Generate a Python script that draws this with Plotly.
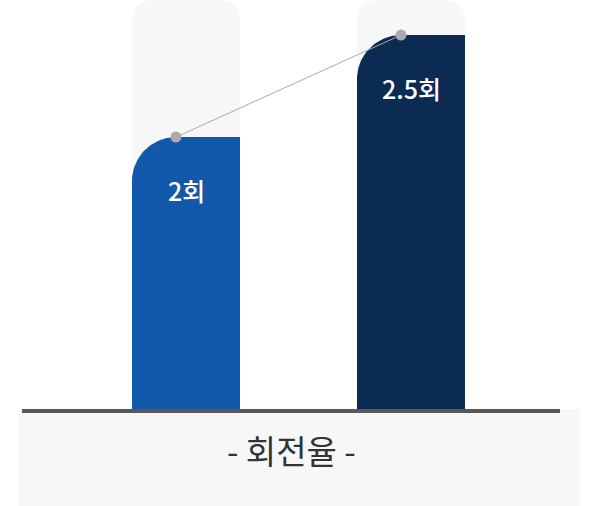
import numpy as np
import plotly.graph_objects as go

# data
categories = ["1", "2"]
values = [2, 2.5]
labels = ["2회", "2.5회"]
bar_colors = ["#1259AB", "#0B2B53"]
axis_title = "- 회전율 -"

# scale settings (the original chart does not start at zero)
y_min = 0.657
y_max = 2.672
x_range = [-186 / 225, 414 / 225]
xpos = list(range(len(categories)))
bar_w = 0.48
track_color = "#F7F7F7"

W, H = 600, 506
plot_h = 411
px_x = W / (x_range[1] - x_range[0])
px_y = plot_h / (y_max - y_min)
r = 44  # top-left corner radius in px
rx, ry = r / px_x, r / px_y

fig = go.Figure()

# light track behind each bar
fig.add_trace(go.Bar(x=xpos, y=[y_max] * len(xpos), width=bar_w,
                     marker=dict(color=track_color, cornerradius=20, line_width=0),
                     hoverinfo="skip", showlegend=False))

# value bars
fig.add_trace(go.Bar(x=xpos, y=values, width=bar_w,
                     marker=dict(color=bar_colors, line_width=0),
                     hoverinfo="skip", showlegend=False))

# round off the top-left corner of each value bar
theta = np.linspace(np.pi / 2, np.pi, 30)
for p, v in zip(xpos, values):
    left = p - bar_w / 2
    cx, cy = left + rx, v - ry
    mx = [left] + list(cx + rx * np.cos(theta)) + [left]
    my = [v] + list(cy + ry * np.sin(theta)) + [v]
    fig.add_trace(go.Scatter(x=mx, y=my, mode="lines", fill="toself",
                             fillcolor=track_color, line=dict(width=0, color=track_color),
                             hoverinfo="skip", showlegend=False))

# connecting line, dots sit where the rounded corner ends
fig.add_trace(go.Scatter(x=[p - bar_w / 2 + rx for p in xpos], y=values, mode="lines+markers",
                         line=dict(color="#ABABAF", width=1),
                         marker=dict(color="#ABABAF", size=11),
                         hoverinfo="skip", showlegend=False))

for p, v, t in zip(xpos, values, labels):
    fig.add_annotation(x=p, y=v, text=t, showarrow=False, yshift=-53,
                       xanchor="center", yanchor="middle",
                       font=dict(family="Noto Sans CJK KR", size=25, color="white", weight=500))

# bottom band + axis line
fig.add_shape(type="rect", xref="paper", yref="paper",
              x0=19 / W, x1=580 / W, y0=-0.232, y1=0.005,
              fillcolor=track_color, line_width=0, layer="below")
fig.add_shape(type="line", xref="paper", yref="paper",
              x0=22 / W, x1=560 / W, y0=0, y1=0,
              line=dict(color="#58585A", width=4))

fig.add_annotation(xref="paper", yref="paper", x=291 / W, y=-39 / plot_h,
                   xanchor="center", yanchor="middle",
                   text=axis_title, showarrow=False,
                   font=dict(family="Noto Sans CJK KR", size=33, color="#333333"))

fig.update_layout(
    width=W, height=H,
    margin=dict(l=0, r=0, t=0, b=H - plot_h),
    barmode="overlay",
    plot_bgcolor="white", paper_bgcolor="white",
    xaxis=dict(range=x_range, visible=False, fixedrange=True),
    yaxis=dict(range=[y_min, y_max], visible=False, fixedrange=True),
)

fig.write_html("out.html", config={"displayModeBar": False},
               post_script="document.body.style.margin='0';")
